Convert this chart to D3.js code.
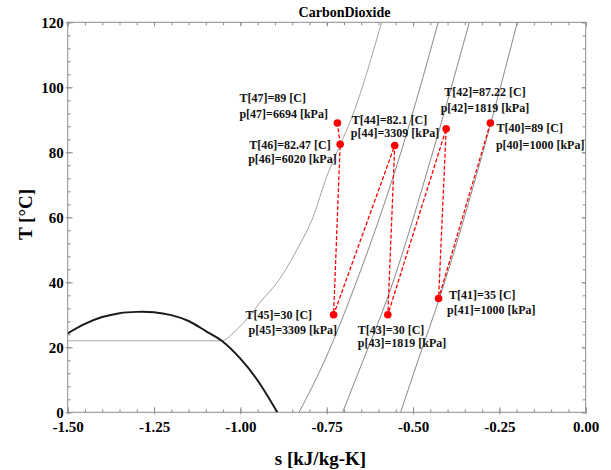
<!DOCTYPE html>
<html>
<head>
<meta charset="utf-8">
<script src="https://cdn.jsdelivr.net/npm/d3@7"></script>
<style>
  body { margin: 0; background: #fff; }
  svg { display: block; font-family: "Liberation Serif", "Times New Roman", serif; font-weight: bold; }
</style>
</head>
<body>
<div id="chart"></div>
<script>
// tick values
const sTicks = [-1.5, -1.25, -1.0, -0.75, -0.5, -0.25, 0];
const tTicks = [0, 20, 40, 60, 80, 100, 120];

// saturation dome
const domeS = [-1.5, -1.45, -1.4, -1.35, -1.3, -1.25, -1.2, -1.15, -1.1, -1.054, -1.0, -0.95, -0.893];
const domeT = [24.3, 27.2, 29.3, 30.5, 30.9, 30.8, 29.9, 28.1, 25.0, 22.0, 16.5, 9.8, 0];

// isobars
const iso6020S = [-1.5, -1.054, -1.02, -0.975, -0.943, -0.885, -0.837, -0.789, -0.75, -0.71, -0.678, -0.591];
const iso6020T = [22, 22, 24.5, 29.5, 33.8, 41.2, 49.9, 60.2, 72.5, 82.5, 90.5, 120];
const iso3309S = [-0.830, -0.755, -0.673, -0.533, -0.427];
const iso3309T = [0, 16.1, 37.6, 80.7, 120];
const iso1819S = [-0.704, -0.644, -0.576, -0.441, -0.337];
const iso1819T = [0, 16.1, 34.6, 80.7, 120];
const iso1000S = [-0.536, -0.485, -0.422, -0.296, -0.198];
const iso1000T = [0, 16.1, 35.6, 80.7, 120];

// cycle states
const stateId = [40, 41, 42, 43, 44, 45, 46, 47];
const stateS = [-0.276, -0.426, -0.404, -0.573, -0.553, -0.730, -0.711, -0.719];
const stateT = [89, 35, 87.22, 30, 82.1, 30, 82.47, 89];
const stateP = [1000, 1000, 1819, 1819, 3309, 3309, 6020, 6694];

// label placement relative to the point (px): [dxT, dyT, dxP, dyP]
const labelPos = [
  [6, 9, 5.5, 25.6],
  [10.5, 0, 8.5, 15.7],
  [-2, -32.6, -5.5, -16.8],
  [-30, 19, -30, 32.3],
  [-43, -21.7, -44, -8.3],
  [-88, 4.3, -85, 19],
  [-91, 4.3, -92, 18.7],
  [-98, -21, -98, -5.4]
];

const W = 611, H = 470;
const margin = { left: 67.7, right: 25.3, top: 22.3, bottom: 57.7 };
const iw = W - margin.left - margin.right;
const ih = H - margin.top - margin.bottom;

const svg = d3.select("#chart").append("svg")
  .attr("width", W).attr("height", H);

const x = d3.scaleLinear().domain([-1.5, 0]).range([0, iw]);
const y = d3.scaleLinear().domain([0, 120]).range([ih, 0]);

const g = svg.append("g").attr("transform", `translate(${margin.left},${margin.top})`);

g.append("clipPath").attr("id", "clip")
  .append("rect").attr("width", iw).attr("height", ih);

const frameColor = "#8c8c8c";

// minor ticks
const sMinor = d3.range(-1.5, 0.001, 0.05).map(v => +v.toFixed(2));
const tMinor = d3.range(0, 120.001, 4);

function minorAxis(axis, vals, transform) {
  const a = g.append("g").attr("transform", transform)
    .call(axis.tickValues(vals).tickSize(-3).tickFormat(""));
  a.select(".domain").remove();
  a.selectAll("line").attr("stroke", frameColor);
}
minorAxis(d3.axisBottom(x), sMinor, `translate(0,${ih})`);
minorAxis(d3.axisTop(x), sMinor, "translate(0,0)");
minorAxis(d3.axisLeft(y), tMinor, "translate(0,0)");
minorAxis(d3.axisRight(y), tMinor, `translate(${iw},0)`);

// major ticks + labels
const fmtS = d => d.toFixed(2);
const xAxis = g.append("g").attr("transform", `translate(0,${ih})`)
  .call(d3.axisBottom(x).tickValues(sTicks).tickSize(-5).tickFormat(fmtS));
xAxis.select(".domain").remove();
xAxis.selectAll("line").attr("stroke", frameColor).attr("y1", 2);
xAxis.selectAll("text").attr("y", 20).attr("dy", 0)
  .style("font-family", "Liberation Serif").style("font-weight", "bold")
  .style("font-size", "15px").attr("fill", "#000");

const yAxis = g.append("g")
  .call(d3.axisLeft(y).tickValues(tTicks).tickSize(-5).tickFormat(d => d));
yAxis.select(".domain").remove();
yAxis.selectAll("line").attr("stroke", frameColor).attr("x1", -2);
yAxis.selectAll("text").attr("x", -4).attr("dy", "0.34em")
  .style("font-family", "Liberation Serif").style("font-weight", "bold")
  .style("font-size", "15px").attr("fill", "#000");

const xTop = g.append("g")
  .call(d3.axisTop(x).tickValues(sTicks).tickSize(-4).tickFormat(""));
xTop.select(".domain").remove();
xTop.selectAll("line").attr("stroke", frameColor);
const yRight = g.append("g").attr("transform", `translate(${iw},0)`)
  .call(d3.axisRight(y).tickValues(tTicks).tickSize(-4).tickFormat(""));
yRight.select(".domain").remove();
yRight.selectAll("line").attr("stroke", frameColor);

// frame
g.append("rect").attr("width", iw).attr("height", ih)
  .attr("fill", "none").attr("stroke", frameColor).attr("stroke-width", 1);

const plot = g.append("g").attr("clip-path", "url(#clip)");

const line = d3.line().x(d => x(d[0])).y(d => y(d[1])).curve(d3.curveMonotoneX);
const zip = (a, b) => a.map((v, i) => [v, b[i]]);

// isobars
[[iso6020S, iso6020T, "#9a9a9a"], [iso3309S, iso3309T, "#7a7a7a"],
 [iso1819S, iso1819T, "#7a7a7a"], [iso1000S, iso1000T, "#7a7a7a"]].forEach(([s, t, c]) => {
  plot.append("path").datum(zip(s, t))
    .attr("d", line).attr("fill", "none")
    .attr("stroke", c).attr("stroke-width", 0.9);
});

// saturation dome
plot.append("path").datum(zip(domeS, domeT))
  .attr("d", d3.line().x(d => x(d[0])).y(d => y(d[1])).curve(d3.curveCatmullRom))
  .attr("fill", "none")
  .attr("stroke", "#1a1a1a").attr("stroke-width", 2);

// cycle
const states = stateId.map((id, i) => ({ id, s: stateS[i], t: stateT[i], p: stateP[i], pos: labelPos[i] }));
plot.append("path").datum(states)
  .attr("d", d3.line().x(d => x(d.s)).y(d => y(d.t)))
  .attr("fill", "none").attr("stroke", "#ff0000")
  .attr("stroke-width", 1.3).attr("stroke-dasharray", "4,2");

plot.selectAll("circle.st").data(states).enter().append("circle")
  .attr("class", "st")
  .attr("cx", d => x(d.s)).attr("cy", d => y(d.t))
  .attr("r", 3.8).attr("fill", "#ff0000");

const labels = g.append("g").style("font-size", "12px").attr("fill", "#111");
states.forEach(d => {
  const px = x(d.s), py = y(d.t);
  labels.append("text").attr("x", px + d.pos[0]).attr("y", py + d.pos[1])
    .text(`T[${d.id}]=${d.t} [C]`);
  labels.append("text").attr("x", px + d.pos[2]).attr("y", py + d.pos[3])
    .text(`p[${d.id}]=${d.p} [kPa]`);
});

// titles
svg.append("text").attr("x", 344.5).attr("y", 16.7)
  .attr("text-anchor", "middle").style("font-size", "14px")
  .text("CarbonDioxide");

svg.append("text").attr("x", 320.5).attr("y", 465)
  .attr("text-anchor", "middle").style("font-size", "19px")
  .text("s [kJ/kg-K]");

svg.append("text")
  .attr("transform", "translate(31.5,214.5) rotate(-90)")
  .attr("text-anchor", "middle").style("font-size", "19px")
  .text("T [°C]");
</script>
</body>
</html>
